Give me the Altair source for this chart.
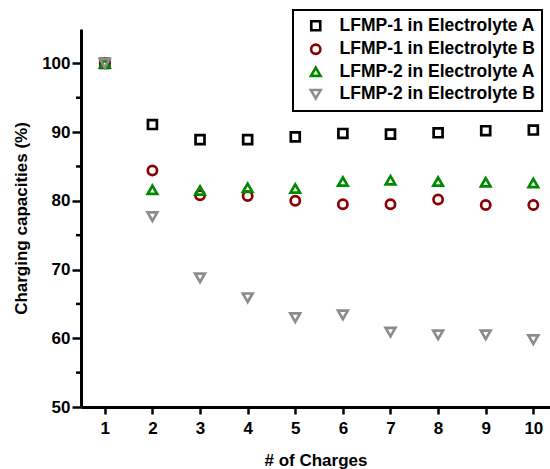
import altair as alt
import pandas as pd

charges = [1, 2, 3, 4, 5, 6, 7, 8, 9, 10]
series_names = [
    "LFMP-1 in Electrolyte A",
    "LFMP-1 in Electrolyte B",
    "LFMP-2 in Electrolyte A",
    "LFMP-2 in Electrolyte B",
]
lfmp1_a = [100, 91.1, 88.9, 88.9, 89.3, 89.8, 89.7, 89.9, 90.2, 90.3]
lfmp1_b = [100, 84.4, 80.8, 80.7, 80.0, 79.5, 79.5, 80.2, 79.4, 79.4]
lfmp2_a = [100, 81.6, 81.5, 81.9, 81.8, 82.8, 83.0, 82.8, 82.7, 82.6]
lfmp2_b = [100, 77.7, 68.8, 65.9, 63.0, 63.4, 60.9, 60.5, 60.5, 59.8]

colors = ["#000000", "#8b0000", "#008a00", "#8c8c8c"]
shapes = ["square", "circle", "triangle-up", "triangle-down"]
sizes = [80, 95, 165, 165]

y_major = [50, 60, 70, 80, 90, 100]
y_minor = [55, 65, 75, 85, 95]

rows = []
for name, vals in zip(series_names, [lfmp1_a, lfmp1_b, lfmp2_a, lfmp2_b]):
    for c, v in zip(charges, vals):
        rows.append({"charge": c, "value": v, "series": name})
df = pd.DataFrame(rows)
minor_df = pd.DataFrame({"tick": y_minor})

FONT = "Liberation Sans"

x_scale = alt.Scale(domain=[0.5, 10.35], nice=False, zero=False)
y_scale = alt.Scale(domain=[50, 105], nice=False, zero=False)

points = alt.Chart(df).mark_point(filled=False, strokeWidth=2.7, opacity=1).encode(
    x=alt.X("charge:Q", scale=x_scale,
            axis=alt.Axis(values=charges, title="# of Charges", format="d",
                          grid=False, domainWidth=3, domainColor="black",
                          tickWidth=2.5, tickSize=7, tickColor="black",
                          labelFont=FONT, labelFontSize=17, labelFontWeight="bold",
                          labelColor="black", labelPadding=6,
                          titleFont=FONT, titleFontSize=17, titleFontWeight="bold",
                          titleColor="black", titlePadding=16)),
    y=alt.Y("value:Q", scale=y_scale,
            axis=alt.Axis(values=y_major, title="Charging capacities (%)",
                          grid=False, domainWidth=3, domainColor="black",
                          tickWidth=2.5, tickSize=9, tickColor="black",
                          labelFont=FONT, labelFontSize=17, labelFontWeight="bold",
                          labelColor="black", labelPadding=2,
                          titleFont=FONT, titleFontSize=17, titleFontWeight="bold",
                          titleColor="black", titlePadding=11)),
    color=alt.Color("series:N", scale=alt.Scale(domain=series_names, range=colors),
                    legend=alt.Legend(title=None)),
    shape=alt.Shape("series:N", scale=alt.Scale(domain=series_names, range=shapes),
                    legend=alt.Legend(title=None)),
    size=alt.Size("series:N", scale=alt.Scale(domain=series_names, range=sizes),
                  legend=alt.Legend(title=None)),
)

minor = alt.Chart(minor_df).mark_rule(color="black", strokeWidth=2.5).encode(
    y=alt.Y("tick:Q", scale=y_scale),
    x=alt.value(-5),
    x2=alt.value(0),
)

chart = alt.layer(minor, points).properties(
    width=469, height=378,
    autosize=alt.AutoSizeParams(type="none"),
    padding={"left": 81, "top": 29, "right": 0, "bottom": 62},
    background="white",
).configure_view(stroke=None).configure_legend(
    orient="none", legendX=212, legendY=-19,
    strokeColor="black", strokeWidth=2, fillColor="white",
    padding=7, labelFont=FONT, labelFontSize=17.5, labelFontWeight="bold",
    labelColor="black", labelOffset=15, rowPadding=2.5, symbolStrokeWidth=2.6,
    symbolOffset=7, labelLimit=400,
)

chart.save("out.html", embed_options={"renderer": "svg", "actions": False})
